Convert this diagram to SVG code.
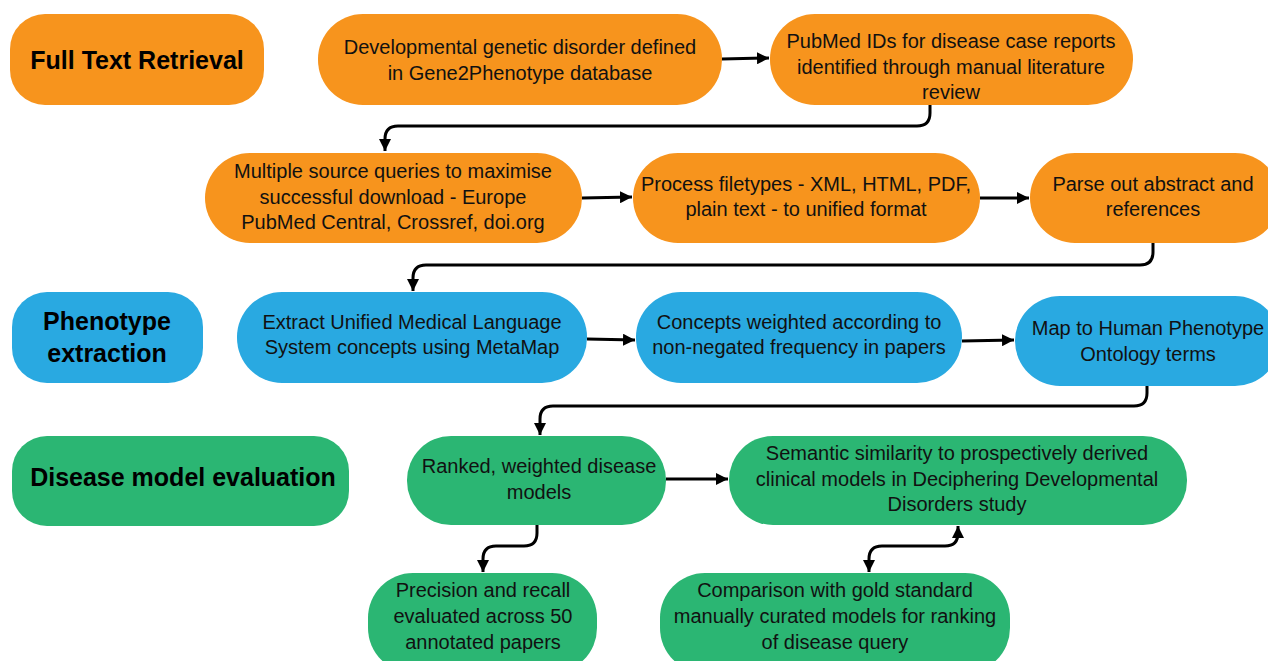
<svg xmlns="http://www.w3.org/2000/svg" width="1268" height="661" viewBox="0 0 1268 661">
<style>
.o{fill:#F7941D}.b{fill:#29A9E1}.g{fill:#2BB673}
.t{font-family:"Liberation Sans",Arial,sans-serif;font-size:20px;text-anchor:middle;fill:#111}
.h{font-family:"Liberation Sans",Arial,sans-serif;font-size:25px;font-weight:bold;text-anchor:middle;fill:#000}
.c{fill:none;stroke:#000;stroke-width:3}
</style>
<defs>
<marker id="ah" viewBox="0 0 10 10" refX="10" refY="5" markerWidth="12" markerHeight="12" markerUnits="userSpaceOnUse" orient="auto-start-reverse">
<path d="M0,0 L10,5 L0,10 z" fill="#000"/>
</marker>
</defs>
<rect width="1268" height="661" fill="#fff"/>

<g id="label-full-text">
<rect class="o" x="10" y="14" width="254" height="91" rx="35"/>
<text class="h" x="137" y="69">Full Text Retrieval</text>
</g>
<g id="n-developmental">
<rect class="o" x="318" y="14" width="404" height="91" rx="45"/>
<text class="t" x="520" y="54">Developmental genetic disorder defined</text>
<text class="t" x="520" y="80">in Gene2Phenotype database</text>
</g>
<g id="n-pubmed">
<rect class="o" x="770" y="14" width="363" height="91" rx="45"/>
<text class="t" x="951" y="48">PubMed IDs for disease case reports</text>
<text class="t" x="951" y="74">identified through manual literature</text>
<text class="t" x="951" y="99">review</text>
</g>
<g id="n-multiple">
<rect class="o" x="205" y="153" width="377" height="90" rx="45"/>
<text class="t" x="393" y="178">Multiple source queries to maximise</text>
<text class="t" x="393" y="204">successful download - Europe</text>
<text class="t" x="393" y="229">PubMed Central, Crossref, doi.org</text>
</g>
<g id="n-process">
<rect class="o" x="633" y="153" width="347" height="90" rx="45"/>
<text class="t" x="806" y="191">Process filetypes - XML, HTML, PDF,</text>
<text class="t" x="806" y="216">plain text - to unified format</text>
</g>
<g id="n-parse">
<rect class="o" x="1030" y="153" width="250" height="90" rx="45"/>
<text class="t" x="1153" y="191">Parse out abstract and</text>
<text class="t" x="1153" y="216">references</text>
</g>

<g id="label-phenotype">
<rect class="b" x="12" y="292" width="191" height="91" rx="35"/>
<text class="h" x="107" y="330">Phenotype</text>
<text class="h" x="107" y="362">extraction</text>
</g>
<g id="n-extract">
<rect class="b" x="237" y="292" width="350" height="91" rx="45"/>
<text class="t" x="412" y="329">Extract Unified Medical Language</text>
<text class="t" x="412" y="354">System concepts using MetaMap</text>
</g>
<g id="n-concepts">
<rect class="b" x="636" y="292" width="326" height="91" rx="45"/>
<text class="t" x="799" y="329">Concepts weighted according to</text>
<text class="t" x="799" y="354">non-negated frequency in papers</text>
</g>
<g id="n-map">
<rect class="b" x="1015" y="296" width="265" height="90" rx="45"/>
<text class="t" x="1148" y="335">Map to Human Phenotype</text>
<text class="t" x="1148" y="361">Ontology terms</text>
</g>

<g id="label-disease">
<rect class="g" x="12" y="436" width="337" height="90" rx="35"/>
<text class="h" x="183" y="486">Disease model evaluation</text>
</g>
<g id="n-ranked">
<rect class="g" x="407" y="436" width="259" height="89" rx="44"/>
<text class="t" x="539" y="473">Ranked, weighted disease</text>
<text class="t" x="539" y="499">models</text>
</g>
<g id="n-semantic">
<rect class="g" x="729" y="436" width="458" height="89" rx="44"/>
<text class="t" x="957" y="460">Semantic similarity to prospectively derived</text>
<text class="t" x="957" y="486">clinical models in Deciphering Developmental</text>
<text class="t" x="957" y="511">Disorders study</text>
</g>
<g id="n-precision">
<rect class="g" x="368" y="573" width="229" height="100" rx="45"/>
<text class="t" x="483" y="597">Precision and recall</text>
<text class="t" x="483" y="623">evaluated across 50</text>
<text class="t" x="483" y="649">annotated papers</text>
</g>
<g id="n-comparison">
<rect class="g" x="660" y="573" width="350" height="100" rx="45"/>
<text class="t" x="835" y="597">Comparison with gold standard</text>
<text class="t" x="835" y="623">manually curated models for ranking</text>
<text class="t" x="835" y="649">of disease query</text>
</g>

<g id="connectors">
<path class="c" d="M722,59 L769,58" marker-end="url(#ah)"/>
<path class="c" d="M930,105 L930,113 Q930,126 917,126 L398,126 Q385,126 385,139 L385,151" marker-end="url(#ah)"/>
<path class="c" d="M582,198 L632,197" marker-end="url(#ah)"/>
<path class="c" d="M980,198 L1029,198" marker-end="url(#ah)"/>
<path class="c" d="M1153,243 L1153,252 Q1153,265 1140,265 L426,265 Q413,265 413,278 L413,291" marker-end="url(#ah)"/>
<path class="c" d="M587,339 L635,340" marker-end="url(#ah)"/>
<path class="c" d="M962,341 L1014,340" marker-end="url(#ah)"/>
<path class="c" d="M1147,386 L1147,393 Q1147,406 1134,406 L553,406 Q540,406 540,419 L540,435" marker-end="url(#ah)"/>
<path class="c" d="M666,479 L728,479" marker-end="url(#ah)"/>
<path class="c" d="M537,525 L537,533 Q537,546 524,546 L496,546 Q483,546 483,559 L483,572" marker-end="url(#ah)"/>
<path class="c" d="M958,526 L958,533 Q958,546 945,546 L882,546 Q869,546 869,559 L869,572" marker-start="url(#ah)" marker-end="url(#ah)"/>
</g>
</svg>
